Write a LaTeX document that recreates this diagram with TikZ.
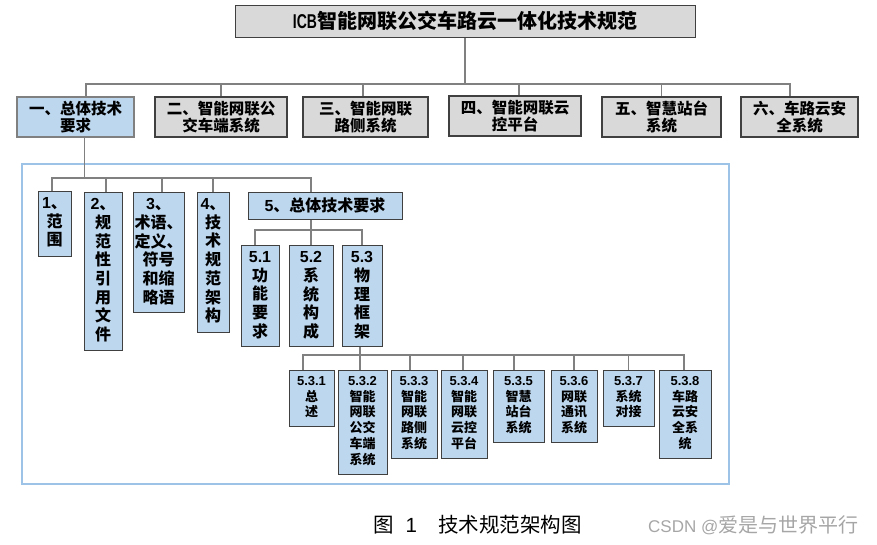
\documentclass[tikz,border=0pt]{standalone}
\usepackage{graphicx}
\usepackage{fontspec}
\setmainfont{Noto Sans CJK SC}
\newfontfamily\lat{Liberation Sans}
\definecolor{bluef}{HTML}{BDD7EE}
\definecolor{grayf}{HTML}{D9D9D9}
\definecolor{bd}{HTML}{404040}
\definecolor{ln}{HTML}{808080}
\definecolor{frm}{HTML}{9DC3E6}
\definecolor{wmc}{HTML}{A6A6A6}
\newcommand\bt[3]{\parbox[c][#2pt][t]{#1pt}{\centering\vspace*{6pt}#3\par}}
\tikzset{
  conn/.style={draw=ln, line width=1.2pt},
  tbox/.style={draw=bd, fill=grayf, line width=1.2pt, inner sep=0pt, minimum height=40pt, align=center,
    font=\fontsize{15.5pt}{16.5pt}\selectfont\bfseries},
  sbox/.style={draw=bd, fill=bluef, line width=1pt, inner sep=0pt, anchor=north,
    font=\fontsize{16pt}{18.7pt}\selectfont\bfseries},
  bbox/.style={sbox, font=\fontsize{13pt}{15.7pt}\selectfont\bfseries},
}
\begin{document}
\begin{tikzpicture}[x=1pt,y=-1pt]
\useasboundingbox (0,0) rectangle (877,544);
% title
\node[draw=bd, fill=grayf, line width=1pt, minimum width=460pt, minimum height=32pt, inner sep=0pt,
  font=\fontsize{20pt}{24pt}\selectfont\bfseries] (title) at (465,21)
  {{\lat\scalebox{0.7}[1]{ICB}}智能网联公交车路云一体化技术规范};
% top row
\node[tbox, fill=bluef, draw=ln, minimum width=117pt] (T1) at (75.5,117) {一、总体技术\\要求};
\node[tbox, minimum width=132pt] (T2) at (221,117) {二、智能网联公\\交车端系统};
\node[tbox, minimum width=125pt] (T3) at (365.5,117) {三、智能网联\\路侧系统};
\node[tbox, minimum width=132pt, line width=1.8pt] (T4) at (515,116) {四、智能网联云\\控平台};
\node[tbox, minimum width=119pt, line width=1.8pt] (T5) at (661.5,117) {五、智慧站台\\系统};
\node[tbox, minimum width=117pt] (T6) at (799.5,117) {六、车路云安\\全系统};
% frame
\node[draw=frm, line width=2pt, minimum width=707pt, minimum height=320pt, inner sep=0pt] (frame) at (375.5,324) {};
% second level
\node[sbox] (S1) at (54.5,191) {\bt{33}{65}{{\lat 1}、\\范\\围}};
\node[sbox] (S2) at (103,192) {\bt{38}{158}{{\lat 2}、\\规\\范\\性\\引\\用\\文\\件}};
\node[sbox] (S3) at (158.5,192) {\bt{51}{120}{{\lat 3}、\\术语、\\定义、\\符号\\和缩\\略语}};
\node[sbox] (S4) at (213,192) {\bt{32}{140}{{\lat 4}、\\技\\术\\规\\范\\架\\构}};
\node[sbox, anchor=center, minimum width=154pt, minimum height=27pt] (S5) at (325,205.5) {{\lat 5}、总体技术要求};
% third level
\node[sbox] (S51) at (260,245) {\bt{38}{101}{{\lat 5.1}\\功\\能\\要\\求}};
\node[sbox] (S52) at (311,245) {\bt{44}{101}{{\lat 5.2}\\系\\统\\构\\成}};
\node[sbox] (S53) at (362,245) {\bt{40}{101}{{\lat 5.3}\\物\\理\\框\\架}};
% fourth level
\node[bbox] (B1) at (311.5,370) {\bt{45}{56}{{\lat 5.3.1}\\总\\述}};
\node[bbox] (B2) at (362.5,370) {\bt{49}{104}{{\lat 5.3.2}\\智能\\网联\\公交\\车端\\系统}};
\node[bbox] (B3) at (414,370) {\bt{46}{88}{{\lat 5.3.3}\\智能\\网联\\路侧\\系统}};
\node[bbox] (B4) at (464,370) {\bt{46}{88}{{\lat 5.3.4}\\智能\\网联\\云控\\平台}};
\node[bbox] (B5) at (518.5,370) {\bt{51}{72}{{\lat 5.3.5}\\智慧\\站台\\系统}};
\node[bbox] (B6) at (574,370) {\bt{46}{72}{{\lat 5.3.6}\\网联\\通讯\\系统}};
\node[bbox] (B7) at (628.5,370) {\bt{51}{56}{{\lat 5.3.7}\\系统\\对接}};
\node[bbox] (B8) at (685,370) {\bt{52}{88}{{\lat 5.3.8}\\车路\\云安\\全系\\统}};
% connectors
\coordinate (h0) at (465,84);
\draw[conn] (title.south) -- (h0);
\draw[conn] (h0) -| ([xshift=10.5pt]T1.north);
\draw[conn] (h0) -| (T2.north);
\draw[conn] (h0) -| ([xshift=-2.5pt]T3.north);
\draw[conn] (h0) -| ([xshift=4pt]T4.north);
\draw[conn] (h0) -| (T5.north);
\draw[conn] (h0) -| ([xshift=-9.5pt]T6.north);
\coordinate (h1) at (84.5,178);
\draw[conn] ([xshift=9pt]T1.south) -- (h1);
\draw[conn] (h1) -| ([xshift=-2.5pt]S1.north);
\draw[conn] (h1) -| ([xshift=3pt]S2.north);
\draw[conn] (h1) -| ([xshift=3.5pt]S3.north);
\draw[conn] (h1) -| (S4.north);
\draw[conn] (h1) -| ([xshift=-14pt]S5.north);
\coordinate (h2) at (311,230);
\draw[conn] ([xshift=-14pt]S5.south) -- (h2);
\draw[conn] (h2) -| ([xshift=-5pt]S51.north);
\draw[conn] (h2) -| (S52.north);
\draw[conn] (h2) -| (S53.north);
\coordinate (h3) at (360,355);
\draw[conn] ([xshift=-2pt]S53.south) -- (h3);
\draw[conn] (h3) -| ([xshift=-8.5pt]B1.north);
\draw[conn] (h3) -| ([xshift=-2.5pt]B2.north);
\draw[conn] (h3) -| ([xshift=-4pt]B3.north);
\draw[conn] (h3) -| ([xshift=-1pt]B4.north);
\draw[conn] (h3) -| ([xshift=-4.5pt]B5.north);
\draw[conn] (h3) -| (B6.north);
\draw[conn] (h3) -| (B7.north);
\draw[conn] (h3) -| ([xshift=-1pt]B8.north);
% caption and watermark
\node[anchor=west, inner sep=0pt, font=\fontsize{20.5pt}{24pt}\selectfont] (cap) at (373,525)
  {图\hspace{12pt}{\lat 1}\hspace{21pt}技术规范架构图};
\node[anchor=west, inner sep=0pt, text=wmc, font=\fontsize{20pt}{24pt}\selectfont] (wm) at (648,525)
  {{\lat\fontsize{17pt}{20pt}\selectfont CSDN @}爱是与世界平行};
\end{tikzpicture}
\end{document}
